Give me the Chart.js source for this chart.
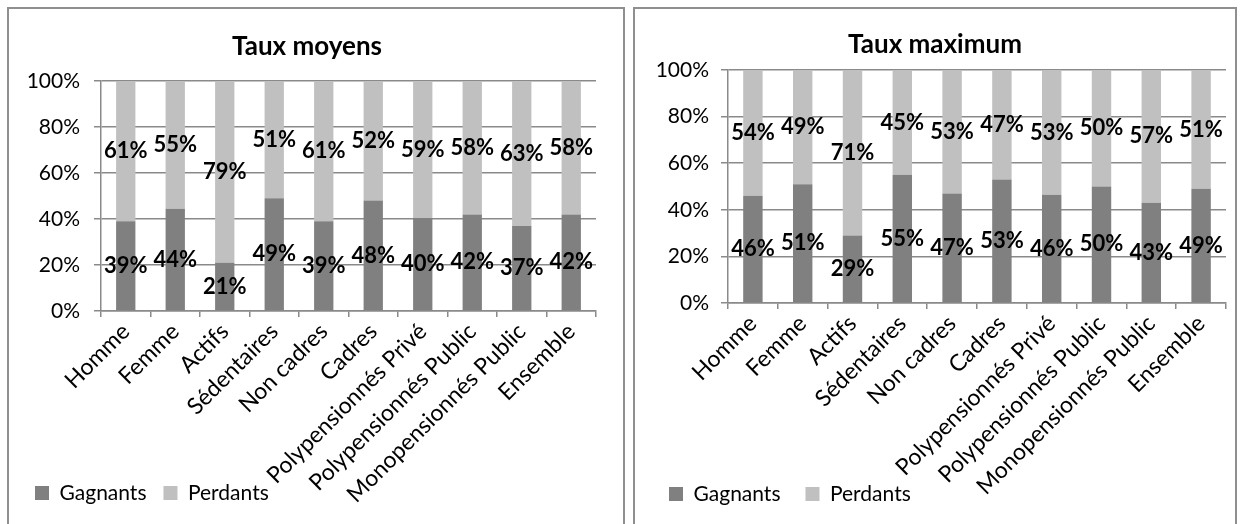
<!DOCTYPE html>
<html>
<head>
<meta charset="utf-8">
<script src="https://cdn.jsdelivr.net/npm/chart.js@4.4.1/dist/chart.umd.min.js"></script>
<style>
body { margin:0; background:#fff; width:1242px; height:524px; overflow:hidden; position:relative; }
.box { position:absolute; border:2px solid #8f8f8f; box-sizing:border-box; }
.wrap { position:absolute; }
</style>
</head>
<body>
<div class="box" style="left:7px;top:7px;width:618px;height:600px"></div>
<div class="box" style="left:633px;top:7px;width:604px;height:600px"></div>
<div class="wrap" style="left:8px;top:8px;width:616px;height:516px"><canvas id="chartMoyens"></canvas></div>
<div class="wrap" style="left:634px;top:8px;width:602px;height:516px"><canvas id="chartMaximum"></canvas></div>
<script>
const categories = ['Homme', 'Femme', 'Actifs', 'Sédentaires', 'Non cadres', 'Cadres',
    'Polypensionnés Privé', 'Polypensionnés Public', 'Monopensionnés Public', 'Ensemble'];
const seriesNames = ['Gagnants', 'Perdants'];
// Taux moyens
const moyensGagnants = [39, 44.45, 21, 49, 39, 48, 40.45, 42, 37, 42];
const moyensPerdants = [61, 55.45, 79, 51, 61, 52, 59.45, 58, 63, 58];
// Taux maximum
const maximumGagnants = [46, 51, 29, 55, 47, 53, 46.45, 50, 43, 49];
const maximumPerdants = [54, 49, 71, 45, 53, 47, 53.45, 50, 57, 51];
const yMax = 100;
const yStep = 20;

const FONT = 'Lato';
const gridColor = '#8a8a8a';

// labels centred in each bar segment
const segmentLabels = {
    id: 'segmentLabels',
    afterDatasetsDraw(chart) {
        const ctx = chart.ctx;
        ctx.save();
        ctx.font = 'bold 22px ' + FONT;
        ctx.fillStyle = '#000';
        ctx.textAlign = 'center';
        ctx.textBaseline = 'middle';
        chart.data.datasets.forEach(function (ds, i) {
            chart.getDatasetMeta(i).data.forEach(function (bar, j) {
                const p = bar.getProps(['x', 'y', 'base'], true);
                ctx.fillText(Math.round(ds.data[j]) + '%', p.x, (p.y + p.base) / 2);
            });
        });
        ctx.restore();
    }
};

// the long category labels run down past the legend, as in excel:
// let the x labels draw to the bottom of the canvas instead of being clipped
const longLabels = {
    id: 'longLabels',
    afterLayout(chart) {
        chart.scales.x.bottom = chart.height;
    }
};

function makeChart(id, title, gagnants, perdants, lay) {
    return new Chart(document.getElementById(id), {
        type: 'bar',
        data: {
            labels: categories,
            datasets: [
                { label: seriesNames[0], data: gagnants, backgroundColor: '#808080' },
                { label: seriesNames[1], data: perdants, backgroundColor: '#c0c0c0' }
            ]
        },
        options: {
            responsive: true,
            maintainAspectRatio: false,
            animation: false,
            datasets: { bar: { categoryPercentage: 1, barPercentage: 0.39 } },
            layout: { padding: { left: lay.padLeft, right: lay.padRight, top: 0, bottom: lay.padBottom } },
            plugins: {
                title: {
                    display: true,
                    text: title,
                    color: '#000',
                    font: { family: FONT, size: 26, weight: 'bold' },
                    padding: { top: lay.titleTop, bottom: lay.titleBottom }
                },
                legend: {
                    position: 'bottom',
                    align: 'start',
                    labels: {
                        color: '#000',
                        font: { family: FONT, size: 21 },
                        boxWidth: 14,
                        boxHeight: 14,
                        padding: lay.legendGap
                    }
                },
                tooltip: { enabled: false }
            },
            scales: {
                x: {
                    stacked: true,
                    grid: { drawOnChartArea: false, color: gridColor, lineWidth: 1.5, tickLength: 6 },
                    border: { color: gridColor, width: 1.5 },
                    ticks: {
                        color: '#000',
                        font: { family: FONT, size: 23 },
                        minRotation: 45,
                        maxRotation: 45,
                        autoSkip: false,
                        padding: 1
                    },
                    afterFit: function (scale) { scale.height = lay.xHeight; }
                },
                y: {
                    stacked: true,
                    min: 0,
                    max: yMax,
                    grid: { color: gridColor, lineWidth: 1.5, tickLength: 7 },
                    border: { color: gridColor, width: 1.5 },
                    ticks: {
                        stepSize: yStep,
                        color: '#000',
                        font: { family: FONT, size: 21 },
                        padding: lay.tickPad,
                        callback: function (v) { return v + '%'; }
                    },
                    afterFit: function (scale) { scale.width = lay.yWidth; }
                }
            }
        },
        plugins: [segmentLabels, longLabels]
    });
}

makeChart('chartMoyens', 'Taux moyens', moyensGagnants, moyensPerdants, {
    padLeft: 10, padRight: 28, padBottom: 10.5, yWidth: 83, xHeight: 154.5,
    titleTop: 23.4, titleBottom: 18.4, legendGap: 17, tickPad: 14
});
makeChart('chartMaximum', 'Taux maximum', maximumGagnants, maximumPerdants, {
    padLeft: 10, padRight: 10, padBottom: 9.5, yWidth: 84, xHeight: 155.5,
    titleTop: 21, titleBottom: 9.8, legendGap: 25, tickPad: 12
});
</script>
</body>
</html>
